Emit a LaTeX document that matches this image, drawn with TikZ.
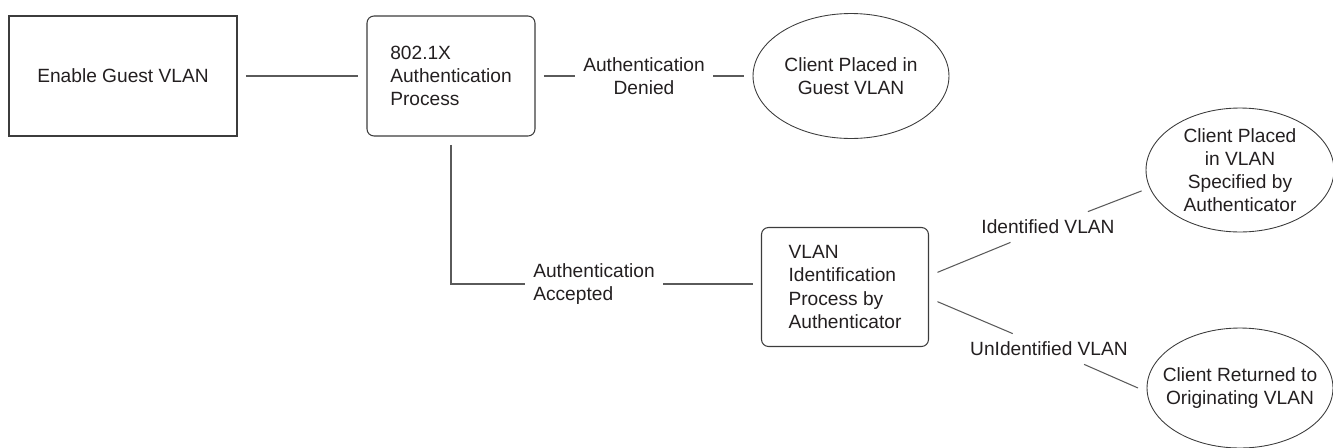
\documentclass[tikz,border=0pt]{standalone}
\usepackage{fontspec}
\setmainfont{Liberation Sans}
\usetikzlibrary{shapes.geometric}
\definecolor{boxgray}{HTML}{3C3C3C}
\definecolor{linegray}{HTML}{5A5A5A}
\definecolor{textdark}{HTML}{231F20}
\begin{document}
\begin{tikzpicture}[x=0.02cm, y=-0.02cm,
        font=\fontsize{10.9}{13.1}\selectfont, text=textdark,
        box/.style={rectangle, draw=boxgray, line width=0.6pt, outer sep=0.18cm,
            minimum height=2.4cm},
        roundbox/.style={box, rounded corners=0.14cm, align=left},
        result/.style={ellipse, draw=boxgray, line width=0.5pt, outer sep=0.18cm,
            inner sep=0pt, label={[align=center, text=textdark]center:{#1}}},
        cond/.style={inner sep=0.16cm, align=center},
        link/.style={draw=linegray, line width=0.6pt}]
        % Frame
        \useasboundingbox (0,0) rectangle (1333,447);

        % Nodes
        \node[box, minimum width=4.56cm] (enable) at (123,76) {Enable Guest VLAN};
        \node[roundbox, minimum width=3.36cm] (authproc) at (451,76) {802.1X\\Authentication\\Process};
        \node[cond] (denied) at (644,76) {Authentication\\Denied};
        \node[result={Client Placed in\\Guest VLAN}, minimum width=3.92cm, minimum height=2.5cm] (guestin) at (851,76) {};
        \node[cond, align=left] (accepted) at (594,284) {Authentication\\Accepted};
        \node[roundbox, minimum width=3.34cm, minimum height=2.38cm] (vlanid) at (845,287) {VLAN\\Identification\\Process by\\Authenticator};
        \node[cond] (ident) at (1048,227) {Identified VLAN};
        \node[cond] (unident) at (1049,349) {UnIdentified VLAN};
        \node[result={Client Placed\\in VLAN\\Specified by\\Authenticator}, minimum width=3.76cm, minimum height=2.48cm] (placed) at (1240,170) {};
        \node[result={Client Returned to\\Originating VLAN}, minimum width=3.72cm, minimum height=2.4cm] (returned) at (1240,388) {};

        % Edges
        \draw[link] (enable) -- (authproc);
        \draw[link] (authproc) -- (denied);
        \draw[link] (denied) -- (guestin);
        \draw[link] (authproc.south) |- (accepted.west);
        \draw[link] (accepted.east) -- (accepted.east -| vlanid.west);
        \draw[link] (vlanid.9) -- (ident);
        \draw[link] (ident) -- (placed.192);
        \draw[link] (vlanid.-9) -- (unident);
        \draw[link] (unident) -- (returned.west);
    \end{tikzpicture}
\end{document}
